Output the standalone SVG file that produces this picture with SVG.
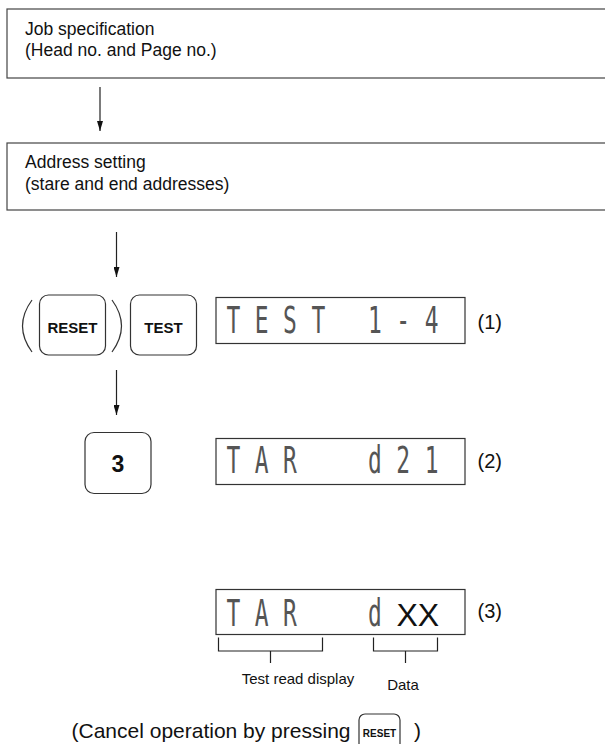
<svg xmlns="http://www.w3.org/2000/svg" width="605" height="744" viewBox="0 0 605 744">
<defs>
<marker id="arr" viewBox="0 0 10 6" refX="10" refY="3" markerWidth="10" markerHeight="6" markerUnits="userSpaceOnUse" orient="auto">
<path d="M0,0 L10,3 L0,6 z" fill="#111"/>
</marker>
<style>
.box{fill:#fff;stroke:#444;stroke-width:1.2}
.key{fill:#fff;stroke:#333;stroke-width:1.2}
.lcd{fill:#fff;stroke:#333;stroke-width:1.2}
.t{font-family:"Liberation Sans",Arial,sans-serif;fill:#111}
.b{font-family:"Liberation Sans",Arial,sans-serif;font-weight:bold;fill:#111;text-anchor:middle}
.dot{font-family:"DejaVu Sans Mono",monospace;font-size:37px;letter-spacing:23.4px;fill:#555;white-space:pre}
.ln{fill:none;stroke:#222;stroke-width:1.2}
.par{fill:none;stroke:#333;stroke-width:1.2}
</style>
</defs>
<rect width="605" height="744" fill="#fff"/>

<g id="job">
<rect class="box" x="7" y="9" width="620" height="69"/>
<text class="t" x="25" y="35" font-size="17.5">Job specification</text>
<text class="t" x="25" y="56" font-size="17.5">(Head no. and Page no.)</text>
</g>

<g id="address">
<rect class="box" x="7" y="143" width="620" height="67"/>
<text class="t" x="25" y="167.5" font-size="17.5">Address setting</text>
<text class="t" x="25" y="190" font-size="17.5">(stare and end addresses)</text>
</g>

<g id="keys1">
<path class="par" d="M32,300 Q13,326 32,352"/>
<rect class="key" x="39.5" y="295" width="66" height="60" rx="9"/>
<text class="b" x="72.5" y="333" font-size="15">RESET</text>
<path class="par" d="M112,300 Q131,326 112,352"/>
<rect class="key" x="130.5" y="295" width="66" height="60" rx="9"/>
<text class="b" x="163.5" y="333" font-size="15">TEST</text>
</g>

<g id="lcd1">
<rect class="lcd" x="216" y="297.5" width="249" height="46"/>
<text class="dot" xml:space="preserve" transform="translate(226.5,333.3) scale(0.62,1)">TEST 1-4</text>
<text class="t" x="477.5" y="328.8" font-size="20">(1)</text>
</g>

<g id="key3">
<rect class="key" x="85" y="432.5" width="66" height="61" rx="9"/>
<text class="b" x="118" y="472" font-size="23">3</text>
</g>

<g id="lcd2">
<rect class="lcd" x="216" y="438.5" width="249" height="46"/>
<text class="dot" xml:space="preserve" transform="translate(226.5,473.3) scale(0.62,1)">TAR  d21</text>
<text class="t" x="477.5" y="467.5" font-size="20">(2)</text>
</g>

<g id="lcd3">
<rect class="lcd" x="216" y="589.5" width="249" height="45"/>
<text class="dot" xml:space="preserve" transform="translate(226.5,626) scale(0.62,1)">TAR  d</text>
<text class="t" x="396.5" y="626" font-size="32">XX</text>
<text class="t" x="477.5" y="617.5" font-size="20">(3)</text>
<path class="ln" d="M218.5,637.5 V651 H322.5 V637.5 M270.5,651 V663"/>
<path class="ln" d="M373.5,637.5 V651 H437.5 V637.5 M405.5,651 V663"/>
<text class="t" x="298" y="684" font-size="15" text-anchor="middle">Test read display</text>
<text class="t" x="403" y="690" font-size="15" text-anchor="middle">Data</text>
</g>

<g id="cancel">
<text class="t" x="71.5" y="738" font-size="21">(Cancel operation by pressing</text>
<rect class="key" x="359" y="714" width="41" height="40" rx="6"/>
<text class="b" x="379.5" y="737" font-size="10">RESET</text>
<text class="t" x="414" y="738" font-size="21">)</text>
</g>

<g id="connectors">
<line class="ln" x1="100" y1="87" x2="100" y2="131" marker-end="url(#arr)"/>
<line class="ln" x1="116.5" y1="232" x2="116.5" y2="277" marker-end="url(#arr)"/>
<line class="ln" x1="116.5" y1="370" x2="116.5" y2="415" marker-end="url(#arr)"/>
</g>
</svg>
